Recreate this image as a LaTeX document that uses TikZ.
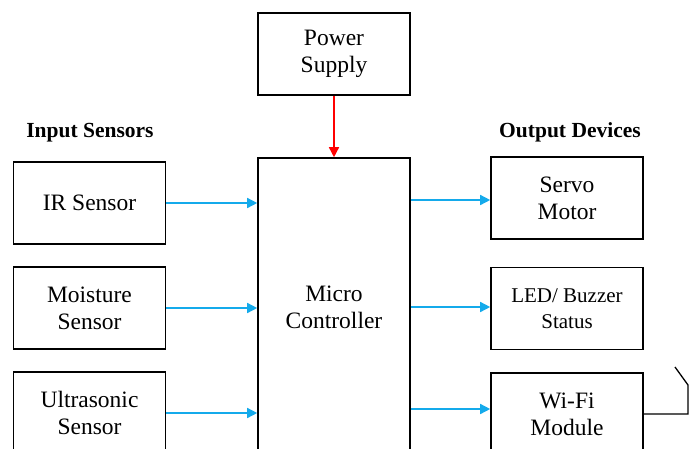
\documentclass[tikz,border=0pt]{standalone}
\usepackage{fontspec}
\setmainfont{Liberation Serif}
\usetikzlibrary{calc,arrows.meta}

\definecolor{linkblue}{RGB}{20,170,235}

\begin{document}
\begin{tikzpicture}[x=1pt,y=-1pt,
    block/.style={draw, line width=1.6pt, minimum width=152pt, minimum height=82pt,
        align=center, font=\fontsize{23.5}{27}\selectfont, inner sep=0pt},
    heading/.style={font=\fontsize{21.5}{24}\selectfont\bfseries},
    sig/.style={draw=linkblue, line width=1.5pt, -{Triangle[length=10pt,width=10pt]}},
    pwr/.style={draw=red, line width=1.5pt, -{Triangle[length=10pt,width=10pt]}}]
    \clip (0,0) rectangle (689,448);
    \fill[white] (0,0) rectangle (689,448);

    \node[block] (power) at (334,54) {Power\\Supply};
    \node[block, minimum height=298pt] (mcu) at (334,307) {Micro\\Controller};

    \node[heading] (inlabel) at (90,133) {Input Sensors};
    \node[heading] (outlabel) at (570,132) {Output Devices};

    \node[block] (ir) at (89.5,203) {IR Sensor};
    \node[block] (moist) at (89.5,308) {Moisture\\Sensor};
    \node[block] (ultra) at (89.5,413) {Ultrasonic\\Sensor};

    \node[block] (servo) at (567,198) {Servo\\Motor};
    \node[block, font=\fontsize{21}{26}\selectfont] (led) at (567,308.5) {LED/ Buzzer\\Status};
    \node[block] (wifi) at (567,414) {Wi-Fi\\Module};

    \draw[pwr] (power.south) -- (power.south |- mcu.north);

    \foreach \n in {ir,moist,ultra}
        \draw[sig] (\n.east) -- (\n.east -| mcu.west);

    \draw[sig] (mcu.east |- servo.west) ++(0,2) -- ($(servo.west)+(0,2)$);
    \draw[sig] (mcu.east |- led.west) ++(0,-1.5) -- ($(led.west)+(0,-1.5)$);
    \draw[sig] ($(mcu.east |- wifi.west)+(0,-5)$) -- ($(wifi.west)+(0,-5)$);

    % antenna
    \coordinate (ant) at (688,385);
    \draw[line width=1.3pt] (wifi.east) -- (wifi.east -| ant) -- (ant) -- (675,367);
\end{tikzpicture}
\end{document}
